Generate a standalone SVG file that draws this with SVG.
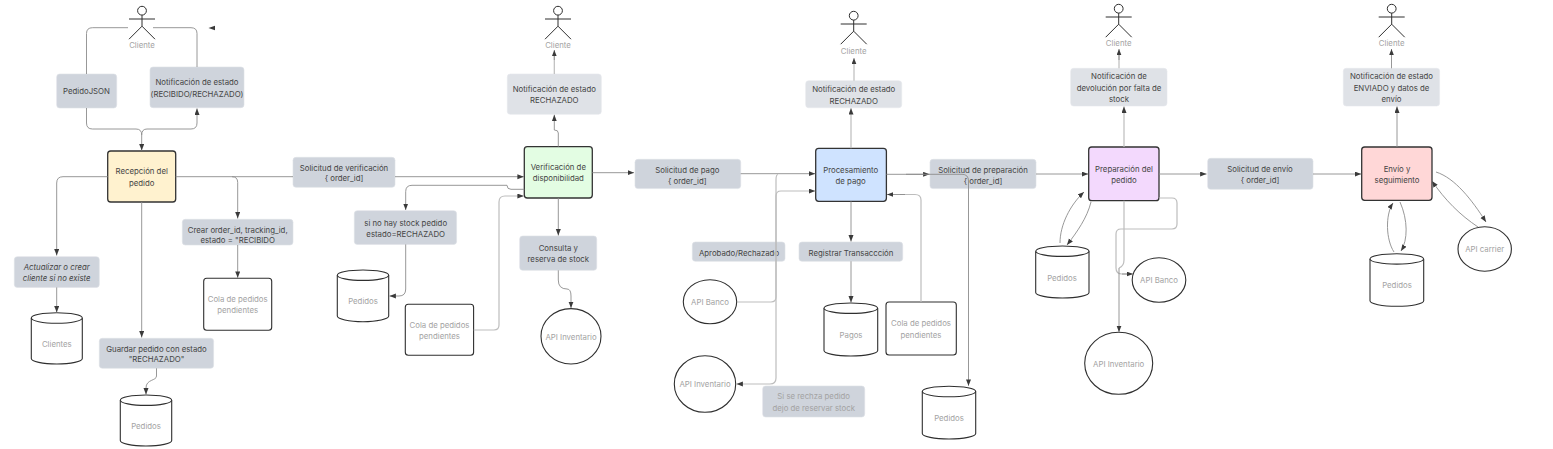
<svg xmlns="http://www.w3.org/2000/svg" width="1553" height="449" viewBox="0 0 1553 449">
<style>
text{font-family:Inter,"Liberation Sans",sans-serif;font-size:7.8px;fill:#454545;text-anchor:middle;dominant-baseline:central}
.g text,text.g{fill:#a3a3a3}
.box{fill:#cfd4dc;stroke:#dde0e6;stroke-width:.6}
.lt{fill:#dfe2e7;stroke:#e6e8ec;stroke-width:.6}
.shape{fill:#fff;stroke:#2f2f2f;stroke-width:1.1}
.proc{stroke:#333;stroke-width:1.3}
.c{fill:none;stroke:#8c8c8c;stroke-width:.9;marker-end:url(#a)}
.n{fill:none;stroke:#8c8c8c;stroke-width:.9}
.t{fill:none;stroke:#bdbdbd;stroke-width:1.2}
.ta{fill:none;stroke:#bdbdbd;stroke-width:1.2;marker-end:url(#a)}
.actor{fill:none;stroke:#2f2f2f;stroke-width:1}
</style>
<defs>
<marker id="a" markerUnits="userSpaceOnUse" markerWidth="7" markerHeight="6" refX="6.4" refY="2.5" orient="auto"><path d="M0 0L6.4 2.5L0 5Z" fill="#3a3a3a"/></marker>
<g id="stick" class="actor"><circle cx="0" cy="0" r="4.4"/><path d="M-13 8.3H13M0 4.4V15.5M0 15.5L-13 28.5M0 15.5L13 28.5"/></g>
</defs>

<g id="actor1"><use href="#stick" x="142" y="10.7"/><text class="g" x="142" y="44.5">Cliente</text></g>
<g id="pedidoJson"><rect class="box" x="56.7" y="74" width="60" height="34" rx="3"/><text x="86.5" y="91">PedidoJSON</text></g>
<g id="notif1"><rect class="box" x="150" y="67" width="94" height="40.7" rx="3"/><text x="197" y="82">Notificación de estado</text><text x="197" y="93.5">(RECIBIDO/RECHAZADO)</text></g>
<g id="recepcion"><rect class="proc" fill="#fff2cf" x="107.7" y="151" width="68" height="51" rx="3"/><text x="141.7" y="171">Recepción del</text><text x="141.7" y="182.6">pedido</text></g>
<g id="actualizar"><rect class="box" x="14.3" y="256.7" width="85" height="30.7" rx="3"/><text font-style="italic" x="56.7" y="267">Actualizar o crear</text><text font-style="italic" x="56.7" y="277.7">cliente si no existe</text></g>
<g id="clientes" class="g"><path class="shape" d="M31.3 318V358.5C31.3 361.5 42.7 364 56.8 364S82.3 361.5 82.3 358.5V318"/><ellipse class="shape" cx="56.8" cy="318" rx="25.5" ry="5.2"/><text x="56.8" y="343.7">Clientes</text></g>
<g id="guardar"><rect class="box" x="99.3" y="338.3" width="114.3" height="30" rx="3"/><text x="156.5" y="348.5">Guardar pedido con estado</text><text x="156.5" y="359">"RECHAZADO"</text></g>
<g id="pedidos1" class="g"><path class="shape" d="M120.3 400.2V440.5C120.3 443.5 131.8 446 146 446S171.7 443.5 171.7 440.5V400.2"/><ellipse class="shape" cx="146" cy="400.2" rx="25.7" ry="5.2"/><text x="146" y="425.5">Pedidos</text></g>
<g id="crear"><rect class="box" x="182.3" y="219.3" width="110.7" height="25.7" rx="3"/><text x="237.7" y="229.5">Crear order_id, tracking_id,</text><text x="237.7" y="240.3">estado = "RECIBIDO</text></g>
<g id="cola1" class="g"><rect class="shape" x="203.7" y="278.3" width="68" height="52" rx="3"/><text x="237.7" y="299">Cola de pedidos</text><text x="237.7" y="310.3">pendientes</text></g>

<g id="solVerif"><rect class="box" x="293" y="157.3" width="102" height="30" rx="3"/><text x="344" y="167.7">Solicitud de verificación</text><text x="344" y="178">{ order_id]</text></g>
<g id="actor2"><use href="#stick" x="558" y="10.7"/><text class="g" x="558" y="44.5">Cliente</text></g>
<g id="notif2"><rect class="lt" x="507.3" y="74" width="94" height="40.3" rx="3"/><text x="554.3" y="89">Notificación de estado</text><text x="554.3" y="100.3">RECHAZADO</text></g>
<g id="verificacion"><rect class="proc" fill="#e3fde3" x="524.3" y="146.7" width="68" height="51.3" rx="3"/><text x="558.3" y="167">Verificación de</text><text x="558.3" y="178.3">disponibilidad</text></g>
<g id="noStock"><rect class="box" x="354.3" y="210.7" width="102.3" height="33.7" rx="3"/><text x="405.7" y="222.5">si no hay stock pedido</text><text x="405.7" y="233.5">estado=RECHAZADO</text></g>
<g id="pedidos2" class="g"><path class="shape" d="M337.3 275.2V316C337.3 319 348.8 321.7 363 321.7S388.7 319 388.7 316V275.2"/><ellipse class="shape" cx="363" cy="275.2" rx="25.7" ry="5.2"/><text x="363" y="301">Pedidos</text></g>
<g id="cola2" class="g"><rect class="shape" x="405.3" y="304.3" width="68.3" height="51" rx="3"/><text x="439.5" y="324.5">Cola de pedidos</text><text x="439.5" y="335.5">pendientes</text></g>
<g id="consulta"><rect class="box" x="519.7" y="236" width="77" height="34.3" rx="3"/><text x="558.3" y="248">Consulta y</text><text x="558.3" y="259">reserva de stock</text></g>
<g id="apiInv1" class="g"><ellipse class="shape" cx="571" cy="336.3" rx="30" ry="27.7"/><text x="571" y="336.5">API Inventario</text></g>

<g id="solPago"><rect class="box" x="635" y="159.3" width="105.7" height="29.3" rx="3"/><text x="687.3" y="170">Solicitud de pago</text><text x="687.3" y="181">{ order_id]</text></g>
<g id="actor3"><use href="#stick" x="853.7" y="15.7"/><text class="g" x="853.7" y="50.7">Cliente</text></g>
<g id="notif3"><rect class="lt" x="805.7" y="80.7" width="96" height="27" rx="3"/><text x="853.7" y="89">Notificación de estado</text><text x="853.7" y="100.7">RECHAZADO</text></g>
<g id="procesamiento"><rect class="proc" fill="#cfe3ff" x="815.7" y="148.3" width="70.7" height="53" rx="3"/><text x="850.7" y="169.5">Procesamiento</text><text x="850.7" y="181">de pago</text></g>
<g id="aprobado"><rect class="box" x="692.3" y="242" width="92.7" height="19.3" rx="3"/><text x="739" y="252.7">Aprobado/Rechazado</text></g>
<g id="registrar"><rect class="box" x="799" y="242" width="103.7" height="19.3" rx="3"/><text x="851" y="252.7">Registrar Transaccción</text></g>
<g id="apiBanco1" class="g"><ellipse class="shape" cx="710" cy="301.7" rx="26.7" ry="22"/><text x="710" y="302">API Banco</text></g>
<g id="apiInv2" class="g"><ellipse class="shape" cx="705" cy="384" rx="30.7" ry="28.3"/><text x="705" y="384.3">API Inventario</text></g>
<g id="pagos" class="g"><path class="shape" d="M824 308.2V350.5C824 353.5 836 356 850.8 356S877.7 353.5 877.7 350.5V308.2"/><ellipse class="shape" cx="850.8" cy="308.2" rx="26.8" ry="5.2"/><text x="851" y="335">Pagos</text></g>
<g id="cola3" class="g"><rect class="shape" x="886" y="302" width="70.3" height="53" rx="3"/><text x="921" y="323">Cola de pedidos</text><text x="921" y="334.5">pendientes</text></g>
<g id="rechaza" class="g"><rect class="box" x="762.7" y="386" width="102" height="31" rx="3"/><text x="813.7" y="396.3">Si se rechza pedido</text><text x="813.7" y="407.7">dejo de reservar stock</text></g>
<g id="solPrep"><rect class="box" x="930" y="159.3" width="106" height="29.3" rx="3"/><text x="983" y="170">Solicitud de preparación</text><text x="983" y="181">{ order_id]</text></g>
<g id="pedidos3" class="g"><path class="shape" d="M922.3 391.5V433.5C922.3 436.5 934.3 439 949 439S975.7 436.5 975.7 433.5V391.5"/><ellipse class="shape" cx="949" cy="391.5" rx="26.7" ry="5.2"/><text x="949" y="418">Pedidos</text></g>

<g id="actor4"><use href="#stick" x="1118.7" y="8.7"/><text class="g" x="1118.7" y="43.3">Cliente</text></g>
<g id="notif4"><rect class="lt" x="1070.7" y="68.3" width="96.3" height="37.7" rx="3"/><text x="1119" y="76">Notificación de</text><text x="1119" y="87.5">devolución por falta de</text><text x="1119" y="99">stock</text></g>
<g id="preparacion"><rect class="proc" fill="#f3d9fd" x="1088.7" y="147" width="70.3" height="53.7" rx="3"/><text x="1124" y="168.5">Preparación del</text><text x="1124" y="180">pedido</text></g>
<g id="solEnvio"><rect class="box" x="1207.7" y="158.3" width="105.3" height="31" rx="3"/><text x="1260" y="168.7">Solicitud de envío</text><text x="1260" y="180">{ order_id]</text></g>
<g id="pedidos4" class="g"><path class="shape" d="M1035.7 251.2V292.5C1035.7 295.5 1047.7 298 1062.4 298S1089 295.5 1089 292.5V251.2"/><ellipse class="shape" cx="1062.4" cy="251.2" rx="26.6" ry="5.2"/><text x="1062" y="277.5">Pedidos</text></g>
<g id="apiBanco2" class="g"><ellipse class="shape" cx="1159" cy="280" rx="26.8" ry="22.3"/><text x="1159" y="280.3">API Banco</text></g>
<g id="apiInv3" class="g"><ellipse class="shape" cx="1118.7" cy="363.3" rx="34" ry="31"/><text x="1118.7" y="364">API Inventario</text></g>

<g id="actor5"><use href="#stick" x="1391.7" y="8.7"/><text class="g" x="1391.7" y="43.3">Cliente</text></g>
<g id="notif5"><rect class="lt" x="1343.3" y="68.3" width="96.3" height="37.7" rx="3"/><text x="1391.5" y="76">Notificación de estado</text><text x="1391.5" y="87.5">ENVIADO y datos de</text><text x="1391.5" y="99">envío</text></g>
<g id="envio"><rect class="proc" fill="#ffd7d7" x="1361.7" y="147" width="70.3" height="53.3" rx="3"/><text x="1397" y="168.5">Envío y</text><text x="1397" y="180">seguimiento</text></g>
<g id="pedidos5" class="g"><path class="shape" d="M1370 258.9V300.8C1370 303.8 1382 306.3 1396.8 306.3S1423.7 303.8 1423.7 300.8V258.9"/><ellipse class="shape" cx="1396.8" cy="258.9" rx="26.8" ry="5.2"/><text x="1397" y="285">Pedidos</text></g>
<g id="apiCarrier" class="g"><ellipse class="shape" cx="1484.7" cy="249" rx="26.7" ry="22.2"/><text x="1484.7" y="249.3">API carrier</text></g>

<g id="connectors">
<path class="n" d="M86.5 74V33.5Q86.5 27.7 92.5 27.7H128"/>
<path class="n" d="M197 67V33.5Q197 27.7 191 27.7H153"/>
<path fill="#3a3a3a" d="M208.5 28L215 25.8V30.2Z"/>
<path class="c" d="M86.5 108V123Q86.5 129 92.5 129H136Q141.7 129 141.7 135V150.5"/>
<path class="c" d="M141.7 135Q141.7 129 147 129H191Q197 129 197 123V108.5"/>
<path class="c" d="M107.7 176.7H63Q56.7 176.7 56.7 183V255.5"/>
<path class="c" d="M56.7 287.4V312.5"/>
<path class="c" d="M141.7 202V337.5"/>
<path class="c" d="M156.5 368.3V376C156.5 381 146 379 146 388V394.5"/>
<path class="n" d="M175.7 176.7H293"/>
<path class="c" d="M232 176.7Q237.7 176.7 237.7 182.5V218.5"/>
<path class="c" d="M237.7 245V277.8"/>
<path class="c" d="M395 176.7H523.8"/>
<path class="c" d="M558.3 146.7V133Q558.3 130 554.3 130V114.8"/>
<path class="t" d="M554.3 74V56"/><path class="c" d="M554.3 60V50"/>
<path class="c" d="M592.3 172.7H634"/>
<path class="c" d="M524.3 189.3H511Q507 189.3 507 185.3H412Q405.7 185.3 405.7 191.5V210"/>
<path class="c" d="M405.7 244.4V289Q405.7 296 399 296H389.5"/>
<path class="ta" d="M473.7 330H494Q499 330 499 325V202Q499 196 505 196H523.8"/>
<path class="c" d="M558.3 198V235.5"/>
<path class="c" d="M558.3 270.3V280Q558.3 289 567 289Q571 289 571 296V308"/>
<path class="c" d="M740.7 173.7H815.2"/>
<path class="ta" d="M737 302H771Q776 302 776 297V196Q776 191 781 191H815.2"/>
<path class="ta" d="M778 174.5Q776 174.5 776 180V378Q776 384 770 384H736.5"/>
<path class="ta" d="M851 148.3V108.2"/>
<path class="ta" d="M854 80.7V58"/>
<path class="c" d="M851 201.3V241.5"/>
<path class="c" d="M851 261.3V302.5"/>
<path class="t" d="M921 302V200Q921 194.5 915 194.5H900"/><path class="c" d="M905 194.5H887"/>
<path class="c" d="M886.4 174.3H929.5"/>
<path class="n" d="M906 174.3H962Q968.5 174.3 968.5 181V300"/>
<path class="c" d="M968.5 300V385.8"/>
<path class="c" d="M1036 174H1088.2"/>
<path class="ta" d="M1124 147V106.5"/>
<path class="t" d="M1119 68.3V55"/><path class="c" d="M1119 60V49"/>
<path class="c" d="M1159 174H1206.5"/>
<path class="c" d="M1313 174H1361.2"/>
<path class="c" d="M1397 147V106.5"/>
<path class="c" d="M1391.5 68.3V49"/>
<path class="c" d="M1060 243C1060 225 1070 205 1084 192"/>
<path class="c" d="M1091 202C1087 218 1077 232 1067 245"/>
<path class="t" d="M1159 198H1172Q1177 198 1177 203V224Q1177 229 1172 229H1121Q1116 229 1116 234V268Q1116 274 1122 274H1128"/>
<path class="c" d="M1122 274H1133"/>
<path class="t" d="M1124 200.7V260Q1124 266 1119 268"/>
<path class="c" d="M1119 268V332"/>
<path class="c" d="M1394 252C1386 240 1385 215 1393 203"/>
<path class="c" d="M1400 202C1408 220 1408 240 1401 251"/>
<path class="c" d="M1436 172C1455 178 1472 200 1486 222"/>
<path class="c" d="M1478 227C1460 215 1445 200 1432 181"/>
</g>
</svg>
